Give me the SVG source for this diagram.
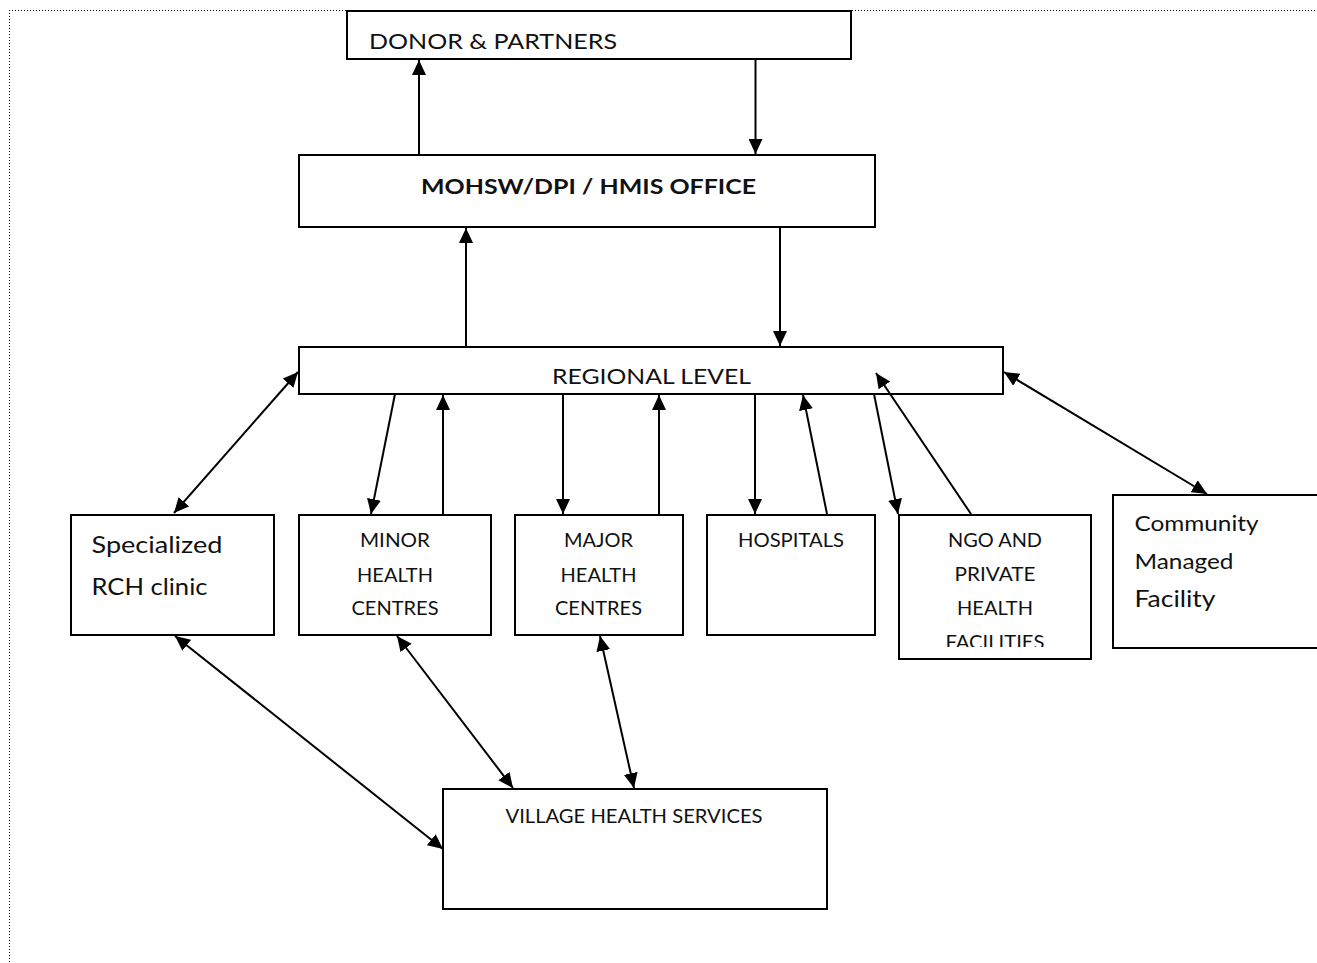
<svg xmlns="http://www.w3.org/2000/svg" width="1317" height="963" viewBox="0 0 1317 963">
<style>
.box{fill:#fff;stroke:#000;stroke-width:2}
.t{font-family:Lato,"Open Sans","Liberation Sans",sans-serif;fill:#111}
.c{text-anchor:middle}
.conn line{stroke:#000;stroke-width:2}
.s{font-size:19px}
</style>
<defs>
<marker id="ah" markerUnits="userSpaceOnUse" markerWidth="16" markerHeight="14" refX="15" refY="7" orient="auto-start-reverse">
<path d="M0,0 L15,7 L0,14 z" fill="#000"/>
</marker>
<clipPath id="ngoclip"><rect x="899" y="515" width="192" height="132"/></clipPath>
</defs>
<rect width="1317" height="963" fill="#fff"/>
<g id="frame" fill="none" stroke="#000" stroke-width="1" stroke-dasharray="1 2">
<line x1="9" y1="10.5" x2="1317" y2="10.5"/>
<line x1="9.5" y1="10" x2="9.5" y2="963"/>
</g>
<g id="donor"><rect class="box" x="347" y="11" width="504" height="48"/>
<text class="t" x="369" y="49" font-size="22" textLength="248" lengthAdjust="spacingAndGlyphs">DONOR &amp; PARTNERS</text></g>
<g id="mohsw"><rect class="box" x="299" y="155" width="576" height="72"/>
<text class="t" x="421" y="194" font-size="21" font-weight="bold" textLength="335" lengthAdjust="spacingAndGlyphs">MOHSW/DPI / HMIS OFFICE</text></g>
<g id="regional"><rect class="box" x="299" y="347" width="704" height="47"/>
<text class="t" x="552" y="384" font-size="22" textLength="199" lengthAdjust="spacingAndGlyphs">REGIONAL LEVEL</text></g>
<g id="specialized"><rect class="box" x="71" y="515" width="203" height="120"/>
<text class="t" x="91.5" y="553" font-size="24" textLength="131" lengthAdjust="spacingAndGlyphs">Specialized</text>
<text class="t" x="91.5" y="595" font-size="24" textLength="116" lengthAdjust="spacingAndGlyphs">RCH clinic</text></g>
<g id="minor"><rect class="box" x="299" y="515" width="192" height="120"/>
<text class="t c s" x="395" y="547" textLength="70" lengthAdjust="spacingAndGlyphs">MINOR</text>
<text class="t c s" x="395" y="582" textLength="76" lengthAdjust="spacingAndGlyphs">HEALTH</text>
<text class="t c s" x="395" y="615" textLength="87" lengthAdjust="spacingAndGlyphs">CENTRES</text></g>
<g id="major"><rect class="box" x="515" y="515" width="168" height="120"/>
<text class="t c s" x="598.5" y="547" textLength="69" lengthAdjust="spacingAndGlyphs">MAJOR</text>
<text class="t c s" x="598.5" y="582" textLength="76" lengthAdjust="spacingAndGlyphs">HEALTH</text>
<text class="t c s" x="598.5" y="615" textLength="87" lengthAdjust="spacingAndGlyphs">CENTRES</text></g>
<g id="hospitals"><rect class="box" x="707" y="515" width="168" height="120"/>
<text class="t c s" x="791" y="547" textLength="106" lengthAdjust="spacingAndGlyphs">HOSPITALS</text></g>
<g id="ngo"><rect class="box" x="899" y="515" width="192" height="144"/>
<g clip-path="url(#ngoclip)">
<text class="t c s" x="995" y="547" textLength="94" lengthAdjust="spacingAndGlyphs">NGO AND</text>
<text class="t c s" x="995" y="581" textLength="81" lengthAdjust="spacingAndGlyphs">PRIVATE</text>
<text class="t c s" x="995" y="615" textLength="76" lengthAdjust="spacingAndGlyphs">HEALTH</text>
<text class="t c s" x="995" y="649" textLength="99" lengthAdjust="spacingAndGlyphs">FACILITIES</text>
</g></g>
<g id="community"><rect class="box" x="1113" y="495" width="230" height="153"/>
<text class="t" x="1134.5" y="531" font-size="21" textLength="124" lengthAdjust="spacingAndGlyphs">Community</text>
<text class="t" x="1134.5" y="569" font-size="21" textLength="99" lengthAdjust="spacingAndGlyphs">Managed</text>
<text class="t" x="1134.5" y="607" font-size="24" textLength="81" lengthAdjust="spacingAndGlyphs">Facility</text></g>
<g id="village"><rect class="box" x="443" y="789" width="384" height="120"/>
<text class="t c" x="634" y="823" font-size="20" textLength="257" lengthAdjust="spacingAndGlyphs">VILLAGE HEALTH SERVICES</text></g>
<g id="connectors" class="conn">
<line x1="419" y1="155" x2="419" y2="60" marker-end="url(#ah)"/>
<line x1="755.5" y1="59" x2="755.5" y2="154" marker-end="url(#ah)"/>
<line x1="466" y1="347" x2="466" y2="228" marker-end="url(#ah)"/>
<line x1="780" y1="227" x2="780" y2="346" marker-end="url(#ah)"/>
<line x1="174" y1="513" x2="298" y2="372" marker-start="url(#ah)" marker-end="url(#ah)"/>
<line x1="395" y1="394" x2="371" y2="514" marker-end="url(#ah)"/>
<line x1="443" y1="514" x2="443" y2="395" marker-end="url(#ah)"/>
<line x1="563" y1="394" x2="563" y2="514" marker-end="url(#ah)"/>
<line x1="659" y1="514" x2="659" y2="395" marker-end="url(#ah)"/>
<line x1="755" y1="394" x2="755" y2="514" marker-end="url(#ah)"/>
<line x1="827" y1="514" x2="803" y2="395" marker-end="url(#ah)"/>
<line x1="874" y1="394" x2="898" y2="514" marker-end="url(#ah)"/>
<line x1="971" y1="514" x2="876" y2="373" marker-end="url(#ah)"/>
<line x1="1004" y1="372" x2="1207" y2="494" marker-start="url(#ah)" marker-end="url(#ah)"/>
<line x1="175" y1="636" x2="443" y2="849" marker-start="url(#ah)" marker-end="url(#ah)"/>
<line x1="397" y1="636" x2="513" y2="788" marker-start="url(#ah)" marker-end="url(#ah)"/>
<line x1="600" y1="636" x2="634" y2="788" marker-start="url(#ah)" marker-end="url(#ah)"/>
</g>
</svg>
